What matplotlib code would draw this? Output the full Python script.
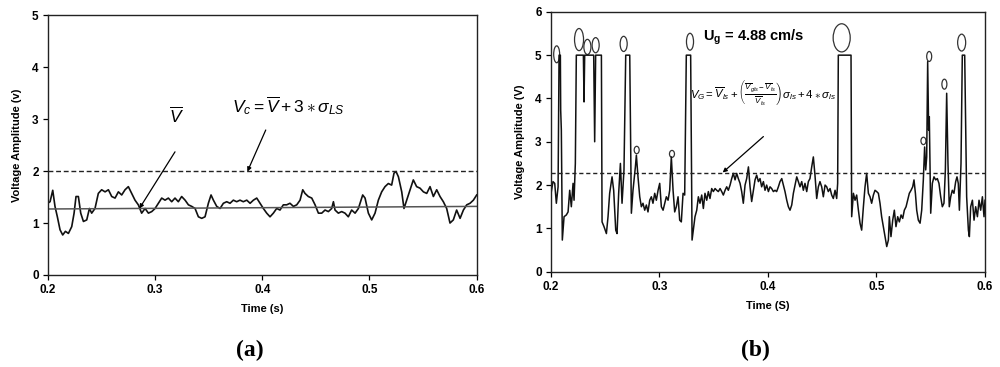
import matplotlib
matplotlib.use('Agg')
import matplotlib.pyplot as plt
from matplotlib.patches import Ellipse

plt.rcParams['font.family'] = ['Liberation Sans', 'DejaVu Sans']
plt.rcParams['mathtext.fontset'] = 'custom'
plt.rcParams['mathtext.rm'] = 'Liberation Sans'
plt.rcParams['mathtext.it'] = 'Liberation Sans:italic'
plt.rcParams['mathtext.bf'] = 'Liberation Sans:bold'

# (a) voltage trace, liquid slug only
left_t = [0.2000, 0.2022, 0.2047, 0.2068, 0.2090, 0.2115, 0.2140, 0.2165, 0.2193, 0.2224,
          0.2246, 0.2264, 0.2286, 0.2308, 0.2333, 0.2364, 0.2389, 0.2410, 0.2441, 0.2472,
          0.2503, 0.2535, 0.2566, 0.2597, 0.2628, 0.2659, 0.2690, 0.2721, 0.2752, 0.2783,
          0.2814, 0.2845, 0.2876, 0.2908, 0.2939, 0.2970, 0.3001, 0.3032, 0.3063, 0.3094,
          0.3125, 0.3156, 0.3187, 0.3218, 0.3249, 0.3281, 0.3312, 0.3343, 0.3374, 0.3405,
          0.3436, 0.3467, 0.3498, 0.3523, 0.3545, 0.3576, 0.3607, 0.3638, 0.3669, 0.3700,
          0.3731, 0.3762, 0.3793, 0.3824, 0.3856, 0.3887, 0.3918, 0.3949, 0.3980, 0.4011,
          0.4042, 0.4073, 0.4104, 0.4135, 0.4166, 0.4197, 0.4228, 0.4259, 0.4291, 0.4322,
          0.4353, 0.4378, 0.4399, 0.4430, 0.4462, 0.4493, 0.4524, 0.4555, 0.4586, 0.4617,
          0.4648, 0.4664, 0.4679, 0.4710, 0.4741, 0.4772, 0.4803, 0.4834, 0.4866, 0.4897,
          0.4912, 0.4937, 0.4959, 0.4990, 0.5021, 0.5052, 0.5083, 0.5114, 0.5145, 0.5176,
          0.5207, 0.5229, 0.5248, 0.5270, 0.5301, 0.5322, 0.5347, 0.5378, 0.5409, 0.5440,
          0.5472, 0.5503, 0.5534, 0.5565, 0.5596, 0.5627, 0.5658, 0.5689, 0.5720, 0.5751,
          0.5782, 0.5813, 0.5845, 0.5876, 0.5907, 0.5938, 0.5969, 0.6000]
left_v = [1.38, 1.41, 1.63, 1.32, 1.12, 0.87, 0.77, 0.84, 0.80, 0.93,
          1.19, 1.51, 1.51, 1.19, 1.03, 1.06, 1.28, 1.19, 1.28, 1.57,
          1.64, 1.60, 1.64, 1.51, 1.48, 1.60, 1.54, 1.64, 1.70, 1.57,
          1.44, 1.35, 1.19, 1.28, 1.19, 1.22, 1.28, 1.38, 1.48, 1.44,
          1.48, 1.41, 1.48, 1.41, 1.51, 1.44, 1.35, 1.32, 1.28, 1.12,
          1.09, 1.12, 1.38, 1.54, 1.44, 1.32, 1.28, 1.38, 1.41, 1.38,
          1.44, 1.41, 1.44, 1.41, 1.44, 1.38, 1.44, 1.48, 1.38, 1.28,
          1.19, 1.12, 1.19, 1.28, 1.25, 1.35, 1.35, 1.38, 1.32, 1.35,
          1.44, 1.64, 1.57, 1.51, 1.48, 1.35, 1.19, 1.19, 1.25, 1.22,
          1.28, 1.41, 1.25, 1.19, 1.22, 1.19, 1.12, 1.25, 1.19, 1.28,
          1.38, 1.54, 1.48, 1.19, 1.06, 1.19, 1.44, 1.60, 1.70, 1.76,
          1.73, 1.96, 1.99, 1.89, 1.60, 1.28, 1.44, 1.64, 1.83, 1.70,
          1.67, 1.60, 1.57, 1.70, 1.51, 1.64, 1.51, 1.41, 1.28, 1.00,
          1.06, 1.25, 1.09, 1.25, 1.35, 1.38, 1.44, 1.54]
mean_v = [1.27, 1.32]      # mean line, start / end
thresh_a = 2.0

# (b) voltage trace with Taylor bubbles (clipped at 5 V)
right_t = [0.2006, 0.2021, 0.2037, 0.2052, 0.2068, 0.2077, 0.2089, 0.2092, 0.2098, 0.2107,
           0.2123, 0.2144, 0.2160, 0.2175, 0.2190, 0.2206, 0.2215, 0.2227, 0.2236, 0.2301,
           0.2307, 0.2313, 0.2396, 0.2405, 0.2414, 0.2467, 0.2473, 0.2491, 0.2513, 0.2528,
           0.2543, 0.2565, 0.2580, 0.2599, 0.2611, 0.2626, 0.2642, 0.2657, 0.2675, 0.2691,
           0.2728, 0.2743, 0.2758, 0.2780, 0.2789, 0.2804, 0.2820, 0.2835, 0.2850, 0.2866,
           0.2881, 0.2896, 0.2912, 0.2927, 0.2942, 0.2958, 0.2973, 0.2989, 0.3004, 0.3019,
           0.3035, 0.3050, 0.3065, 0.3081, 0.3096, 0.3111, 0.3127, 0.3142, 0.3157, 0.3173,
           0.3188, 0.3203, 0.3219, 0.3234, 0.3249, 0.3289, 0.3302, 0.3329, 0.3345, 0.3360,
           0.3375, 0.3391, 0.3406, 0.3421, 0.3437, 0.3452, 0.3467, 0.3483, 0.3498, 0.3514,
           0.3529, 0.3544, 0.3560, 0.3575, 0.3590, 0.3606, 0.3621, 0.3636, 0.3652, 0.3667,
           0.3682, 0.3698, 0.3713, 0.3728, 0.3744, 0.3759, 0.3774, 0.3790, 0.3805, 0.3821,
           0.3836, 0.3851, 0.3867, 0.3882, 0.3897, 0.3913, 0.3928, 0.3943, 0.3959, 0.3974,
           0.3989, 0.4005, 0.4020, 0.4035, 0.4051, 0.4066, 0.4081, 0.4097, 0.4112, 0.4128,
           0.4143, 0.4158, 0.4174, 0.4189, 0.4204, 0.4220, 0.4235, 0.4250, 0.4266, 0.4281,
           0.4296, 0.4312, 0.4327, 0.4342, 0.4358, 0.4373, 0.4388, 0.4404, 0.4419, 0.4434,
           0.4450, 0.4465, 0.4480, 0.4496, 0.4511, 0.4527, 0.4542, 0.4557, 0.4573, 0.4588,
           0.4603, 0.4619, 0.4634, 0.4643, 0.4649, 0.4766, 0.4772, 0.4788, 0.4803, 0.4818,
           0.4834, 0.4849, 0.4864, 0.4880, 0.4895, 0.4910, 0.4926, 0.4941, 0.4956, 0.4972,
           0.4987, 0.5002, 0.5018, 0.5033, 0.5048, 0.5064, 0.5079, 0.5095, 0.5110, 0.5119,
           0.5134, 0.5150, 0.5165, 0.5180, 0.5196, 0.5211, 0.5227, 0.5242, 0.5257, 0.5273,
           0.5288, 0.5303, 0.5319, 0.5334, 0.5346, 0.5359, 0.5371, 0.5386, 0.5402, 0.5417,
           0.5432, 0.5444, 0.5454, 0.5463, 0.5472, 0.5481, 0.5487, 0.5500, 0.5515, 0.5530,
           0.5546, 0.5561, 0.5576, 0.5592, 0.5607, 0.5622, 0.5635, 0.5647, 0.5659, 0.5671,
           0.5684, 0.5699, 0.5714, 0.5730, 0.5742, 0.5754, 0.5764, 0.5779, 0.5791, 0.5813,
           0.5831, 0.5847, 0.5856, 0.5868, 0.5884, 0.5899, 0.5914, 0.5930, 0.5945, 0.5960,
           0.5976, 0.5991, 0.6000]
right_v = [1.85, 2.08, 2.04, 1.58, 1.96, 5.00, 5.00, 3.73, 3.27, 0.73,
           1.27, 1.31, 1.38, 1.88, 1.50, 2.04, 1.65, 2.50, 5.00, 5.00,
           3.92, 5.00, 5.00, 3.00, 5.00, 5.00, 1.15, 1.04, 0.88, 1.27,
           1.81, 2.19, 1.88, 0.96, 0.88, 1.81, 2.50, 1.58, 2.35, 5.00,
           5.00, 1.35, 1.88, 2.42, 2.69, 2.19, 1.73, 1.50, 1.58, 1.42,
           1.54, 1.38, 1.65, 1.73, 1.58, 1.81, 1.65, 1.88, 2.04, 1.50,
           1.42, 1.58, 1.73, 1.65, 1.88, 2.65, 1.88, 1.38, 1.50, 1.73,
           1.19, 1.15, 1.81, 1.77, 5.00, 5.00, 0.73, 1.27, 1.42, 1.73,
           1.58, 1.77, 1.46, 1.81, 1.65, 1.85, 1.69, 1.92, 1.85, 1.92,
           1.88, 1.85, 1.92, 1.85, 1.77, 1.88, 1.96, 1.88, 2.00, 2.15,
           2.27, 2.12, 2.27, 2.15, 2.04, 1.85, 1.58, 2.00, 2.15, 2.42,
           1.96, 1.62, 1.88, 2.12, 2.23, 2.08, 2.15, 1.96, 2.08, 1.88,
           2.00, 1.85, 1.96, 1.92, 1.85, 1.88, 1.85, 1.96, 2.08, 2.15,
           2.00, 1.85, 1.65, 1.50, 1.42, 1.54, 1.81, 2.00, 2.19, 2.08,
           1.96, 2.08, 1.88, 2.04, 1.85, 2.08, 2.15, 2.42, 2.65, 2.23,
           1.69, 1.96, 2.08, 1.96, 1.73, 2.00, 1.96, 1.85, 1.92, 1.77,
           1.69, 1.88, 1.69, 2.04, 5.00, 5.00, 1.27, 1.81, 1.65, 1.77,
           1.42, 1.12, 0.96, 1.50, 1.96, 2.27, 1.81, 1.73, 1.58, 1.77,
           1.88, 1.85, 1.81, 1.58, 1.27, 1.04, 0.81, 0.58, 0.73, 1.27,
           0.81, 1.19, 1.42, 1.04, 1.27, 1.15, 1.31, 1.23, 1.42, 1.50,
           1.65, 1.81, 1.88, 1.96, 2.12, 1.81, 1.42, 1.19, 1.12, 1.42,
           2.12, 2.88, 2.35, 2.65, 4.85, 3.27, 3.58, 1.35, 2.04, 2.19,
           2.12, 2.15, 2.04, 1.73, 1.50, 1.58, 2.35, 4.12, 2.50, 1.50,
           1.73, 1.88, 1.81, 2.08, 2.19, 2.04, 1.42, 2.50, 5.00, 5.00,
           1.73, 0.96, 0.81, 1.50, 1.65, 1.19, 1.50, 1.27, 1.65, 1.42,
           1.73, 1.27, 1.65]
thresh_b = 2.29

# bubble markers: centre (s, V) and size (s, V)
bubble_t = [0.2055, 0.2261, 0.2338, 0.2414, 0.2672, 0.3283, 0.2792, 0.3117,
            0.4680, 0.5486, 0.5433, 0.5626, 0.5785]
bubble_v = [5.02, 5.36, 5.19, 5.23, 5.26, 5.31, 2.81, 2.72,
            5.40, 4.97, 3.02, 4.33, 5.29]
bubble_w = [0.0055, 0.0083, 0.0065, 0.0065, 0.0065, 0.0065, 0.0046, 0.0046,
            0.0157, 0.0046, 0.0046, 0.0046, 0.0074]
bubble_h = [0.39, 0.51, 0.35, 0.35, 0.35, 0.39, 0.17, 0.16,
            0.65, 0.23, 0.17, 0.23, 0.39]

fig = plt.figure(figsize=(10, 3.67), dpi=100)
ax1 = fig.add_axes([0.0477, 0.2507, 0.429, 0.708])
ax2 = fig.add_axes([0.5507, 0.2597, 0.4343, 0.708])

arrow = dict(arrowstyle='-|>', color='k', lw=0.9, mutation_scale=6, shrinkA=0, shrinkB=0)

# ---- panel (a)
ax1.plot(left_t, left_v, color='#111111', lw=1.2)
ax1.plot([0.2, 0.6], mean_v, color='#555555', lw=1.1)
ax1.axhline(thresh_a, color='#222222', lw=1.0, ls=(0, (3.5, 2)))
ax1.set_xlim(0.2, 0.6)
ax1.set_ylim(0, 5)
ax1.set_xticks([0.2, 0.3, 0.4, 0.5, 0.6])
ax1.set_yticks([0, 1, 2, 3, 4, 5])
ax1.set_xlabel('Time (s)', fontsize=8, fontweight='bold', labelpad=6)
ax1.set_ylabel('Voltage Amplitude (v)', fontsize=8, fontweight='bold', labelpad=7)
ax1.text(0.3203, 3.07, r'$\overline{V}$', fontsize=12.5, ha='center', va='center')
ax1.annotate('', xy=(0.2855, 1.28), xytext=(0.3187, 2.37), arrowprops=arrow)
ax1.text(0.4244, 3.27, r'$V_c = \overline{V} + 3 \ast \sigma_{LS}$', fontsize=12.5,
         ha='center', va='center')
ax1.annotate('', xy=(0.3862, 1.99), xytext=(0.4033, 2.79), arrowprops=arrow)

# ---- panel (b)
ax2.plot(right_t, right_v, color='#111111', lw=1.1)
ax2.axhline(thresh_b, color='#222222', lw=1.0, ls=(0, (3, 2)))
for bt, bv, bw, bh in zip(bubble_t, bubble_v, bubble_w, bubble_h):
    ax2.add_patch(Ellipse((bt, bv), bw, bh, facecolor='white', edgecolor='#333333', lw=0.9))
ax2.set_xlim(0.2, 0.6)
ax2.set_ylim(0, 6)
ax2.set_xticks([0.2, 0.3, 0.4, 0.5, 0.6])
ax2.set_yticks([0, 1, 2, 3, 4, 5, 6])
ax2.set_xlabel('Time (S)', fontsize=8, fontweight='bold', labelpad=6)
ax2.set_ylabel('Voltage Amplitude (V)', fontsize=8, fontweight='bold', labelpad=7)
ax2.text(0.3873, 5.42, r'$\mathbf{U_g}$ = 4.88 cm/s', fontsize=10.5, fontweight='bold',
         ha='center', va='center')
ax2.text(0.3959, 4.12,
         r'$V_G = \overline{V}_{ls} + \left(\frac{\overline{V}_{gls} - \overline{V}_{ls}}'
         r'{\overline{V}_{ls}}\right)\sigma_{ls} + 4 \ast \sigma_{ls}$',
         fontsize=8.2, ha='center', va='center')
ax2.annotate('', xy=(0.3584, 2.29), xytext=(0.3959, 3.12), arrowprops=arrow)

for ax in (ax1, ax2):
    ax.tick_params(direction='out', length=3.5, width=0.9, labelsize=8.5, pad=3)
    for lab in ax.get_xticklabels() + ax.get_yticklabels():
        lab.set_fontweight('bold')
    for s in ax.spines.values():
        s.set_linewidth(1.0)
        s.set_color('#222222')

fig.text(0.25, 0.045, '(a)', fontsize=17, fontweight='bold', family='Liberation Serif',
         ha='center', va='center')
fig.text(0.755, 0.045, '(b)', fontsize=17, fontweight='bold', family='Liberation Serif',
         ha='center', va='center')

fig.savefig('out.png', dpi=100)
